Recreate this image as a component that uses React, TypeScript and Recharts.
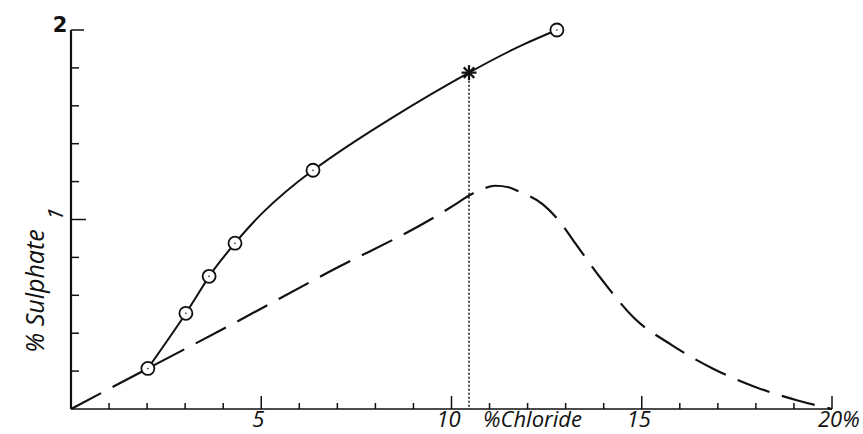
import { Line, LineChart, XAxis, YAxis } from 'recharts';

// Measured points on the solid curve (the asterisk is the 6th one).
const measuredChloride = [2.02, 3.02, 3.63, 4.31, 6.36, 10.46, 12.77];
const measuredSulphate = [0.214, 0.505, 0.7, 0.875, 1.26, 1.775, 2.0];
const measuredMarker = ['circle', 'circle', 'circle', 'circle', 'circle', 'star', 'circle'];

// Dashed curve, read along its length.
const dashedChloride = [
  0, 2.02, 4.23, 6.75, 9.7, 10.1, 10.45, 10.8, 11.15, 11.5, 11.8, 12.4, 12.8, 13.25,
  14.0, 14.8, 15.8, 16.9, 18.0, 19.1, 20,
];
const dashedSulphate = [
  0, 0.214, 0.447, 0.72, 1.03, 1.08, 1.125, 1.16, 1.178, 1.17, 1.145, 1.08, 1.0, 0.875,
  0.67, 0.48, 0.336, 0.21, 0.115, 0.045, 0,
];

// The dotted drop line from the asterisk down to the axis.
const dropChloride = [10.46, 10.46];
const dropSulphate = [1.775, 0];

const xTicks = [1, 2, 3, 4, 5, 6, 7, 8, 9, 10, 11, 12, 13, 14, 15, 16, 17, 18, 19, 20];
const xMajor = [5, 10, 15, 20];
const yTicks = [0.2, 0.4, 0.6, 0.8, 1, 1.2, 1.4, 1.6, 1.8, 2];

const measured = measuredChloride.map((x, i) => ({
  x,
  y: measuredSulphate[i],
  kind: measuredMarker[i],
}));
const dashed = dashedChloride.map((x, i) => ({ x, y: dashedSulphate[i] }));
const drop = dropChloride.map((x, i) => ({ x, y: dropSulphate[i] }));

const INK = '#111';
const HAND = '"Open Sans", "DejaVu Sans", sans-serif';

function XTick(props: any) {
  const { x, y, payload } = props;
  const v = payload.value as number;
  const major = xMajor.includes(v);
  return (
    <g>
      <line x1={x} y1={y} x2={x} y2={y - (major ? 13 : 6)} stroke={INK} strokeWidth={1.5} />
      {major && (
        <text
          x={v === 20 ? x - 14 : x - 3}
          y={y + 18}
          textAnchor={v === 20 ? 'start' : 'middle'}
          fontFamily={HAND}
          fontStyle="italic"
          fontSize={22}
          fill={INK}
        >
          {v === 20 ? '20%' : v}
        </text>
      )}
    </g>
  );
}

function YTick(props: any) {
  const { x, y, payload } = props;
  const v = payload.value as number;
  const len = v === 1 ? 15 : v === 2 ? 13 : 8;
  return (
    <g>
      <line x1={x} y1={y} x2={x + len} y2={y} stroke={INK} strokeWidth={1.5} />
      {v === 2 && (
        <text
          x={x - 11}
          y={y + 2}
          textAnchor="middle"
          fontFamily="DejaVu Sans, sans-serif"
          fontWeight="bold"
          fontSize={21}
          fill={INK}
        >
          2
        </text>
      )}
      {v === 1 && (
        <text
          x={x - 8}
          y={y - 4}
          textAnchor="middle"
          transform={`rotate(-80 ${x - 8} ${y - 4})`}
          fontFamily={HAND}
          fontStyle="italic"
          fontSize={22}
          fill={INK}
        >
          1
        </text>
      )}
    </g>
  );
}

function MeasuredDot(props: any) {
  const { cx, cy, payload, index } = props;
  if (payload.kind === 'star') {
    const r = 7.5;
    return (
      <g key={`m-${index}`} stroke={INK} strokeWidth={2.2}>
        <line x1={cx} y1={cy - r} x2={cx} y2={cy + r} />
        <line x1={cx - r} y1={cy} x2={cx + r} y2={cy} />
        <line x1={cx - r * 0.7} y1={cy - r * 0.7} x2={cx + r * 0.7} y2={cy + r * 0.7} />
        <line x1={cx - r * 0.7} y1={cy + r * 0.7} x2={cx + r * 0.7} y2={cy - r * 0.7} />
      </g>
    );
  }
  return (
    <g key={`m-${index}`}>
      <circle cx={cx} cy={cy} r={6.5} fill="#fff" stroke={INK} strokeWidth={1.8} />
      <circle cx={cx} cy={cy} r={0.8} fill={INK} />
    </g>
  );
}

function ChlorideLabel(props: any) {
  const { viewBox } = props;
  return (
    <text
      x={viewBox.x + 412}
      y={viewBox.y + 18}
      fontFamily={HAND}
      fontStyle="italic"
      fontSize={22}
      fill={INK}
    >
      %Chloride
    </text>
  );
}

function SulphateLabel() {
  return (
    <text
      x={44}
      y={291}
      textAnchor="middle"
      transform="rotate(-90 44 291)"
      fontFamily={HAND}
      fontStyle="italic"
      fontSize={25}
      fill={INK}
    >
      % Sulphate
    </text>
  );
}

export default function App() {
  return (
    <div style={{ position: 'absolute', left: 0, top: 0, background: '#fff' }}>
      <LineChart width={863} height={434} margin={{ top: 30, right: 31, bottom: 0, left: 0 }}>
        <XAxis
          type="number"
          dataKey="x"
          domain={[0, 20]}
          ticks={xTicks}
          interval={0}
          height={25}
          tickSize={0}
          tickMargin={0}
          tickLine={false}
          axisLine={{ stroke: INK, strokeWidth: 1.6 }}
          tick={(p: any) => <XTick {...p} />}
          label={(p: any) => <ChlorideLabel {...p} />}
        />
        <YAxis
          type="number"
          dataKey="y"
          domain={[0, 2]}
          ticks={yTicks}
          interval={0}
          width={71}
          tickSize={0}
          tickMargin={0}
          tickLine={false}
          axisLine={{ stroke: INK, strokeWidth: 2.2 }}
          tick={(p: any) => <YTick {...p} />}
          label={() => <SulphateLabel />}
        />
        <Line
          data={dashed}
          dataKey="y"
          type="monotone"
          stroke={INK}
          strokeWidth={2.2}
          strokeDasharray="34 13"
          dot={false}
          activeDot={false}
          isAnimationActive={false}
        />
        <Line
          data={drop}
          dataKey="y"
          type="linear"
          stroke={INK}
          strokeWidth={1.5}
          strokeDasharray="2 2"
          dot={false}
          activeDot={false}
          isAnimationActive={false}
        />
        <Line
          data={measured}
          dataKey="y"
          type="natural"
          stroke={INK}
          strokeWidth={2}
          dot={(p: any) => <MeasuredDot {...p} />}
          activeDot={false}
          isAnimationActive={false}
        />
      </LineChart>
    </div>
  );
}
